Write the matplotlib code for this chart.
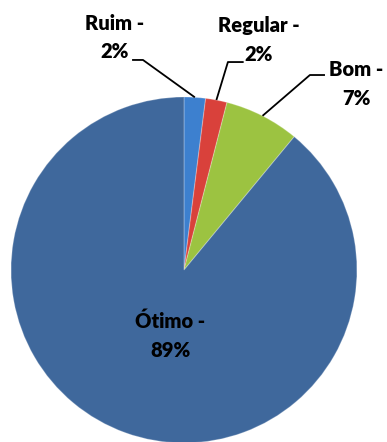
import matplotlib.pyplot as plt
import numpy as np

labels = ['Ruim', 'Regular', 'Bom', 'Ótimo']
values = [2, 2, 7, 89]
colors = ['#3d80cf', '#d9413b', '#9cc341', '#3f689c']

# label centers (data units, pie radius = 1) and leader elbows
label_pos = {'Ruim': (-0.40, 1.345), 'Regular': (0.43, 1.33), 'Bom': (0.995, 1.075), 'Ótimo': (-0.08, -0.38)}
elbows = {'Ruim': ((-0.237, 1.214), (-0.30, 1.214)),
          'Regular': ((0.254, 1.202), (0.345, 1.202)),
          'Bom': ((0.728, 1.127), (0.815, 1.127))}

fig = plt.figure(figsize=(3.87, 4.42), dpi=100)
ax = fig.add_axes([0.0284, -0.0023, 0.894, 0.783])
wedges, _ = ax.pie(values, colors=colors, startangle=90, counterclock=False,
                   radius=1, wedgeprops=dict(linewidth=0.8))
for w in wedges:
    w.set_edgecolor((1, 1, 1, 0.25))
ax.set_xlim(-1, 1)
ax.set_ylim(-1, 1)
ax.set_aspect('equal')
ax.axis('off')

for w, lab, v in zip(wedges, labels, values):
    txt = f'{lab} -\n{v}%'
    x, y = label_pos[lab]
    ax.text(x, y, txt, ha='center', va='center', fontsize=14.5, fontweight='heavy',
            family='Lato', linespacing=1.6, color='black', clip_on=False)
    if lab in elbows:
        ang = np.deg2rad((w.theta1 + w.theta2) / 2)
        p0 = (np.cos(ang), np.sin(ang))
        e1, e2 = elbows[lab]
        ax.plot([p0[0], e1[0], e2[0]], [p0[1], e1[1], e2[1]], color='black',
                lw=1.3, clip_on=False, solid_capstyle='butt')

fig.savefig('out.png', dpi=100)
